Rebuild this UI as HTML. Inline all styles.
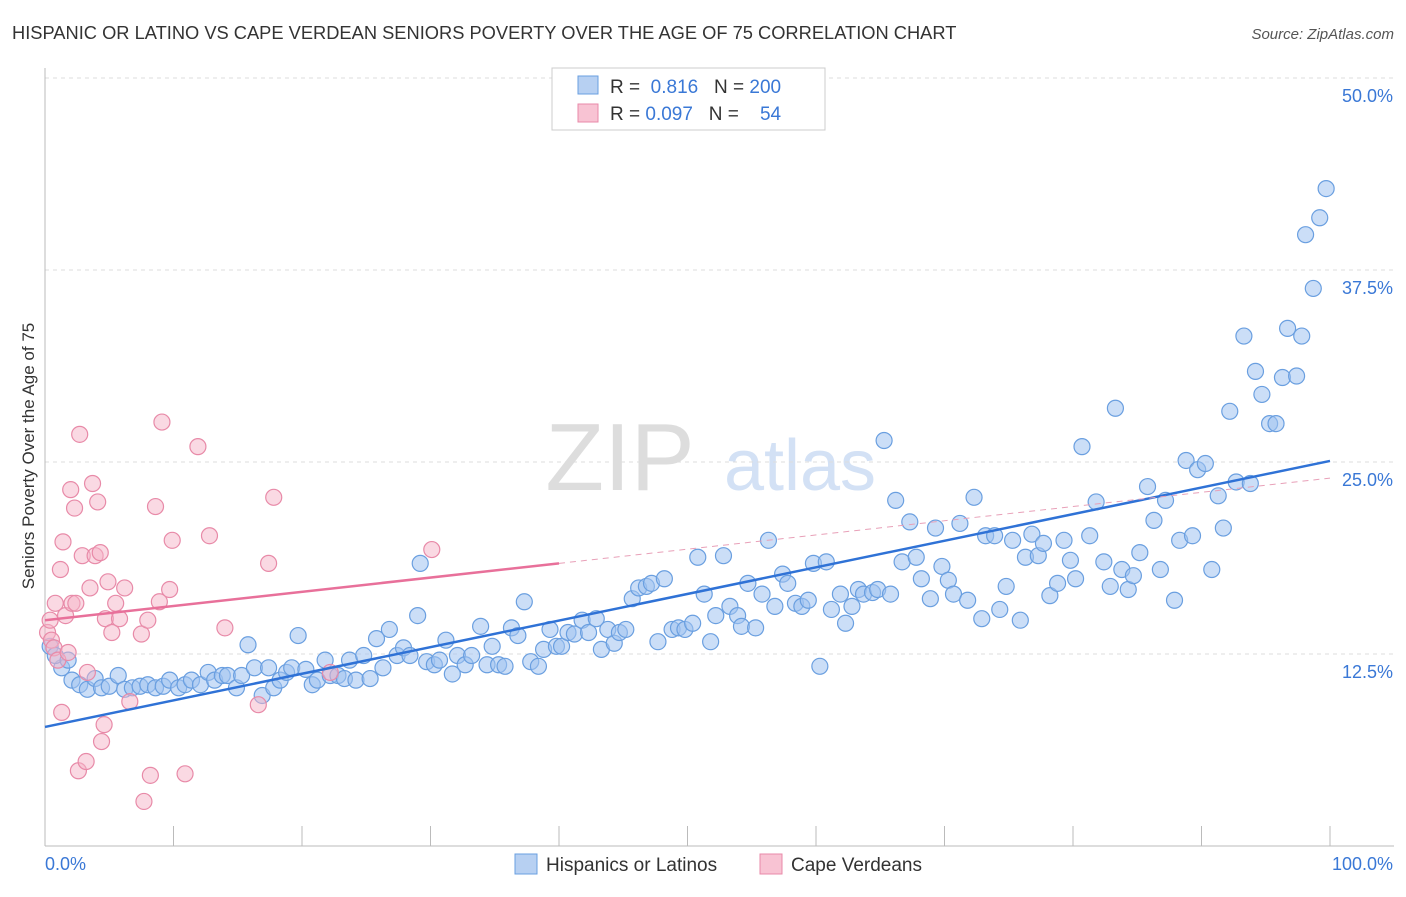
<!DOCTYPE html>
<html><head><meta charset="utf-8">
<style>
body{margin:0;background:#fff;font-family:"Liberation Sans",sans-serif;}
svg text{font-family:"Liberation Sans",sans-serif;}
</style></head>
<body>
<svg id="chart" width="1406" height="892" viewBox="0 0 1406 892" xmlns="http://www.w3.org/2000/svg">
<text x="12" y="39" font-size="18.3" fill="#333">HISPANIC OR LATINO VS CAPE VERDEAN SENIORS POVERTY OVER THE AGE OF 75 CORRELATION CHART</text>
<text x="1394" y="39" font-size="15" fill="#555" text-anchor="end" font-style="italic">Source: ZipAtlas.com</text>
<text x="620" y="490" font-size="96" fill="#ddd" text-anchor="middle" font-family="Liberation Serif">ZIP</text>
<text x="800" y="490" font-size="72" fill="#d3e1f5" text-anchor="middle">atlas</text>
<g id="grid"></g>
<g id="axes"></g>
<g id="pts"></g>
<g id="lines"></g>
<text transform="translate(34,456) rotate(-90)" font-size="17" fill="#333" text-anchor="middle">Seniors Poverty Over the Age of 75</text>
<g>
<rect x="552" y="68" width="273" height="62" fill="#fff" stroke="#ccc"/>
<rect x="578" y="76" width="20" height="18" fill="#b7d0f2" stroke="#6a9fe0"/>
<rect x="578" y="104" width="20" height="18" fill="#f8c3d3" stroke="#e88aa8"/>
<text x="610" y="93" font-size="19" fill="#333">R = <tspan fill="#3a78d6">&#160;0.816</tspan>&#160;&#160;&#160;N = <tspan fill="#3a78d6">200</tspan></text>
<text x="610" y="120" font-size="19" fill="#333">R = <tspan fill="#3a78d6">0.097</tspan>&#160;&#160;&#160;N = <tspan fill="#3a78d6">&#160;&#160;&#160;54</tspan></text>
</g>
<g>
<rect x="515" y="854" width="22" height="20" fill="#b7d0f2" stroke="#6a9fe0"/>
<text x="546" y="871" font-size="19" fill="#333">Hispanics or Latinos</text>
<rect x="760" y="854" width="22" height="20" fill="#f8c3d3" stroke="#e88aa8"/>
<text x="791" y="871" font-size="19" fill="#333">Cape Verdeans</text>
</g>
</svg>
<script>
const blueX=[1.3,2.1,2.7,3.3,3.9,4.4,5.0,5.7,6.2,6.8,7.4,8.0,8.6,9.2,9.7,10.4,10.9,11.4,12.1,12.7,13.2,13.8,14.2,14.9,15.3,15.8,16.3,16.9,17.4,17.8,18.3,18.8,19.2,19.7,20.3,20.8,21.2,21.8,22.2,22.8,23.3,23.7,24.2,24.8,25.3,25.8,26.3,26.8,27.4,27.9,28.4,29.0,29.2,29.7,30.3,30.7,31.2,31.7,32.1,32.7,33.2,33.9,34.4,34.8,35.3,35.8,36.3,36.8,37.3,37.8,38.4,38.8,39.3,39.8,40.2,40.7,41.2,41.8,42.3,42.9,43.3,43.8,44.3,44.7,45.2,45.7,46.2,46.8,47.2,47.7,48.2,48.8,49.3,49.8,50.4,50.8,51.3,51.8,52.2,52.8,53.3,53.9,54.2,54.7,55.3,55.8,56.3,56.8,57.4,57.8,58.4,58.9,59.4,59.8,60.3,60.8,61.2,61.9,62.3,62.8,63.3,63.7,64.4,64.8,65.3,65.8,66.2,66.7,67.3,67.8,68.2,68.9,69.3,69.8,70.3,70.7,71.2,71.8,72.3,72.9,73.2,73.9,74.3,74.8,75.3,75.9,76.3,76.8,77.3,77.7,78.2,78.8,79.3,79.8,80.2,80.7,81.3,81.8,82.4,82.9,83.3,83.8,84.3,84.7,85.2,85.8,86.3,86.8,87.2,87.9,88.3,88.8,89.3,89.7,90.3,90.8,91.3,91.7,92.2,92.7,93.3,93.8,94.2,94.7,95.3,95.8,96.3,96.7,97.4,97.8,98.1,98.7,99.2,99.7,0.4,0.8,1.8];
const blueY=[11.6,10.8,10.5,10.2,10.9,10.3,10.4,11.1,10.2,10.3,10.4,10.5,10.3,10.4,10.8,10.3,10.5,10.8,10.5,11.3,10.8,11.1,11.1,10.3,11.1,13.1,11.6,9.8,11.6,10.3,10.8,11.3,11.6,13.7,11.5,10.5,10.8,12.1,11.1,11.1,10.9,12.1,10.8,12.4,10.9,13.5,11.6,14.1,12.4,12.9,12.4,15.0,18.4,12.0,11.8,12.1,13.4,11.2,12.4,11.8,12.4,14.3,11.8,13.0,11.8,11.7,14.2,13.7,15.9,12.0,11.7,12.8,14.1,13.0,13.0,13.9,13.8,14.7,13.9,14.8,12.8,14.1,13.2,13.9,14.1,16.1,16.8,16.9,17.1,13.3,17.4,14.1,14.2,14.1,14.5,18.8,16.4,13.3,15.0,18.9,15.6,15.0,14.3,17.1,14.2,16.4,19.9,15.6,17.7,17.1,15.8,15.6,16.0,18.4,11.7,18.5,15.4,16.4,14.5,15.6,16.7,16.4,16.5,16.7,26.4,16.4,22.5,18.5,21.1,18.8,17.4,16.1,20.7,18.2,17.3,16.4,21.0,16.0,22.7,14.8,20.2,20.2,15.4,16.9,19.9,14.7,18.8,20.3,18.9,19.7,16.3,17.1,19.9,18.6,17.4,26.0,20.2,22.4,18.5,16.9,28.5,18.0,16.7,17.6,19.1,23.4,21.2,18.0,22.5,16.0,19.9,25.1,20.2,24.5,24.9,18.0,22.8,20.7,28.3,23.7,33.2,23.6,30.9,29.4,27.5,27.5,30.5,33.7,30.6,33.2,39.8,36.3,40.9,42.8,13.0,12.4,12.1];
const pinkX=[0.2,0.4,0.5,0.7,0.8,1.0,1.2,1.3,1.4,1.6,1.8,2.0,2.1,2.3,2.4,2.6,2.7,2.9,3.2,3.3,3.5,3.7,3.9,4.1,4.3,4.4,4.6,4.7,4.9,5.2,5.5,5.8,6.2,6.6,7.5,7.7,8.0,8.2,8.6,8.9,9.1,9.7,9.9,10.9,11.9,12.8,14.0,16.6,17.4,17.8,22.2,30.1];
const pinkY=[13.9,14.7,13.4,12.9,15.8,12.1,18.0,8.7,19.8,15.0,12.6,23.2,15.8,22.0,15.8,4.9,26.8,18.9,5.5,11.3,16.8,23.6,18.9,22.4,19.1,6.8,7.9,14.8,17.2,13.9,15.8,14.8,16.8,9.4,13.8,2.9,14.7,4.6,22.1,15.9,27.6,16.7,19.9,4.7,26.0,20.2,14.2,9.2,18.4,22.7,11.3,19.3];
const blueLine=[7.75,25.07];
const pinkLine=[14.7,23.95];
const yTicks=[12.5,25.0,37.5,50.0];
const xTicks=[0,10,20,30,40,50,60,70,80,90,100];
const NS='http://www.w3.org/2000/svg';
const sx=v=>45+v*12.85, sy=v=>846-v*15.36;
function mk(tag,attrs,parent){const e=document.createElementNS(NS,tag);for(const k in attrs)e.setAttribute(k,attrs[k]);parent.appendChild(e);return e;}
const grid=document.getElementById('grid'),axes=document.getElementById('axes'),pts=document.getElementById('pts'),lines=document.getElementById('lines');
yTicks.forEach(t=>{const l=mk('line',{x1:45,x2:1394,y1:sy(t),y2:sy(t),stroke:'#ddd','stroke-dasharray':'4,4'},grid);


const tx=mk('text',{x:1393,y:sy(t)+24,'font-size':18,fill:'#3a78d6','text-anchor':'end'},axes);tx.textContent=t.toFixed(1)+'%';

});
const tl=mk('line',{x1:45,x2:1394,y1:78,y2:78,stroke:'#ddd','stroke-dasharray':'4,4'},grid);


const xa=mk('line',{x1:45,x2:1394,y1:846,y2:846,stroke:'#bbb'},axes);


const ya=mk('line',{x1:45,x2:45,y1:68,y2:846,stroke:'#bbb'},axes);


xTicks.forEach(t=>{const l=mk('line',{x1:sx(t),x2:sx(t),y1:826,y2:846,stroke:'#bbb'},axes);

});
const x0=mk('text',{x:45,y:870,'font-size':18,fill:'#3a78d6'},axes);x0.textContent='0.0%';


const x1=mk('text',{x:1393,y:870,'font-size':18,fill:'#3a78d6','text-anchor':'end'},axes);x1.textContent='100.0%';


blueX.forEach((x,i)=>{const c=mk('circle',{cx:sx(x),cy:sy(blueY[i]),r:8,fill:'rgba(160,195,240,0.55)',stroke:'#6a9fe0','stroke-width':1.2},pts);

});
pinkX.forEach((x,i)=>{const c=mk('circle',{cx:sx(x),cy:sy(pinkY[i]),r:8,fill:'rgba(245,180,200,0.5)',stroke:'#e88aa8','stroke-width':1.2},pts);

});
const bl=mk('line',{x1:sx(0),y1:sy(blueLine[0]),x2:sx(100),y2:sy(blueLine[1]),stroke:'#2f72d6','stroke-width':2.5},lines);


const pAt=x=>pinkLine[0]+(pinkLine[1]-pinkLine[0])*x/100;
const ps=mk('line',{x1:sx(0),y1:sy(pAt(0)),x2:sx(40),y2:sy(pAt(40)),stroke:'#e8709a','stroke-width':2.5},lines);


const pd=mk('line',{x1:sx(40),y1:sy(pAt(40)),x2:sx(100),y2:sy(pAt(100)),stroke:'#e8a0b8','stroke-width':1,'stroke-dasharray':'6,5'},lines);


</script>
</body></html>
